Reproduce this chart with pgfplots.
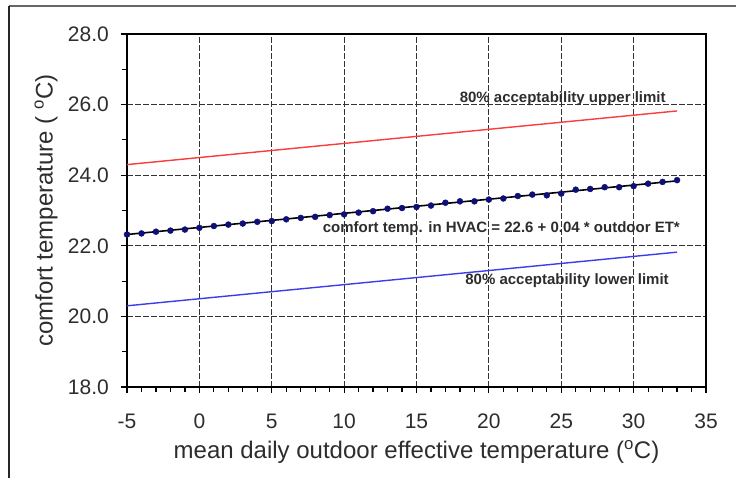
\documentclass[border=0pt]{standalone}
\usepackage{fontspec}
\setmainfont{Liberation Sans}
\usepackage{pgfplots}
\pgfplotsset{compat=1.18}

\definecolor{limred}{RGB}{250,60,60}
\definecolor{limblue}{RGB}{60,60,235}
\definecolor{dotnavy}{RGB}{15,15,120}
\definecolor{txtgray}{RGB}{45,45,45}

\begin{document}
\begin{tikzpicture}[x=1pt,y=1pt]
\useasboundingbox (0,0) rectangle (736,477);
% outer frame
\draw[line width=1.5pt, black!60] (9,471) -- (740,471);
\draw[line width=2pt, black!85] (9,471) -- (9,-5);

\begin{axis}[
  at={(127pt,90pt)}, anchor=south west,
  scale only axis, width=579pt, height=353pt,
  xmin=-5, xmax=35, ymin=18, ymax=28,
  xtick={-5,0,...,35}, ytick={18,20,...,28},
  minor x tick num=4, minor y tick num=1,
  xtick pos=left, ytick pos=left,
  tick align=outside,
  major tick length=6pt, minor tick length=5pt,
  every tick/.style={black, line width=1.2pt},
  axis line style={line width=1.8pt, black},
  grid=major,
  major grid style={dash pattern=on 6pt off 2pt, line width=1pt, black!80},
  /pgf/number format/assume math mode=true,
  yticklabel={\pgfmathprintnumber[fixed,fixed zerofill,precision=1]{\tick}},
  ticklabel style={font=\fontsize{21}{25}\selectfont, text=txtgray},
  yticklabel style={inner sep=0pt, xshift=-12pt},
  xticklabel style={inner sep=0pt, yshift=-21pt},
  xlabel={mean daily outdoor effective temperature (\textsuperscript{o}C)},
  ylabel={comfort temperature ( \textsuperscript{o}C)},
  label style={font=\fontsize{24}{28}\selectfont, text=txtgray},
  xlabel style={at={([yshift=-65pt]rel axis cs:0.5,0)}, anchor=center},
  ylabel style={at={([xshift=-81pt]rel axis cs:0,0.5)}, anchor=center},
  clip=false,
]
% acceptability limits
\addplot[limred, line width=1.4pt] coordinates {(-5,24.30) (33,25.82)};
\addplot[limblue, line width=1.4pt] coordinates {(-5,20.30) (33,21.82)};
% comfort temperature in HVAC buildings
\addplot[black, line width=1.6pt] coordinates {(-5,22.32) (33,23.84)};
\addplot[only marks, mark=*, mark size=3pt, dotnavy, mark options={draw=dotnavy, fill=dotnavy}] coordinates {
(-5,22.32) (-4,22.35) (-3,22.40) (-2,22.43) (-1,22.46) (0,22.51) (1,22.56) (2,22.60)
(3,22.63) (4,22.68) (5,22.70) (6,22.75) (7,22.79) (8,22.82) (9,22.87) (10,22.89)
(11,22.94) (12,22.98) (13,23.05) (14,23.07) (15,23.10) (16,23.14) (17,23.22) (18,23.26)
(19,23.26) (20,23.31) (21,23.34) (22,23.41) (23,23.45) (24,23.43) (25,23.48) (26,23.59)
(27,23.61) (28,23.66) (29,23.66) (30,23.69) (31,23.76) (32,23.81) (33,23.86)};

\node[font=\bfseries\fontsize{15}{17}\selectfont, text=txtgray] at (axis cs:25.1,26.17) {80\% acceptability upper limit};
\node[font=\bfseries\fontsize{15}{17}\selectfont, text=txtgray] at (axis cs:20.86,22.49) {comfort temp. in HVAC = 22.6 + 0.04 * outdoor ET*};
\node[font=\bfseries\fontsize{15}{17}\selectfont, text=txtgray] at (axis cs:25.4,21.0) {80\% acceptability lower limit};
\end{axis}
\end{tikzpicture}
\end{document}
